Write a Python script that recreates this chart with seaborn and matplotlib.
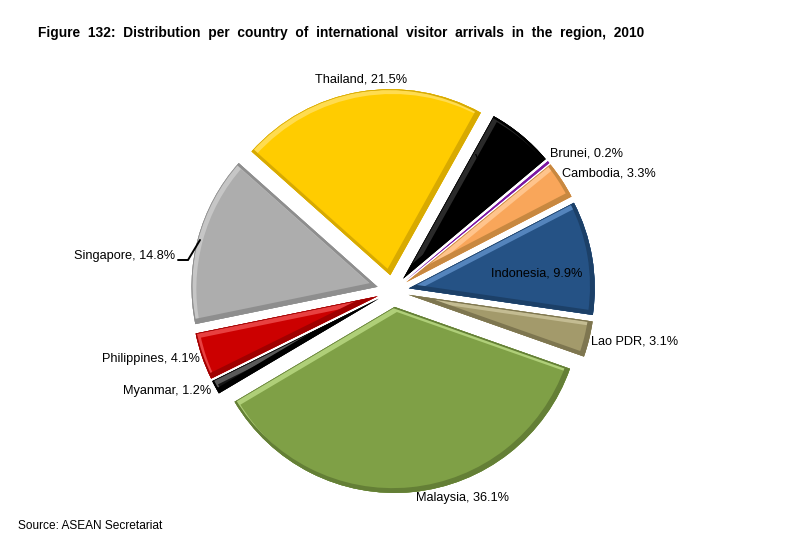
import matplotlib
matplotlib.use("Agg")
import matplotlib.pyplot as plt
from matplotlib.patches import Wedge
import seaborn as sns

# values, clockwise from Brunei
countries = ["Brunei", "Cambodia", "Indonesia", "Lao PDR", "Malaysia",
             "Myanmar", "Philippines", "Singapore", "Thailand", "Vietnam"]
shares = [0.2, 3.3, 9.9, 3.1, 36.1, 1.2, 4.1, 14.8, 21.5, 5.8]
slice_colors = ["#9A1FC8", "#F9A65A", "#255285", "#A39A6B", "#7FA046",
                "#141414", "#CC0000", "#ADADAD", "#FFCC00", "#000000"]
light_colors = ["#B050D8", "#FFC48C", "#5484BC", "#C4BC92", "#AFCF78",
                "#5A5A5A", "#E84040", "#C6C6C6", "#FFDC50", "#2A2A2A"]
dark_colors = ["#7A18A0", "#C88840", "#1C4068", "#7E7650", "#647F36",
               "#000000", "#A00000", "#8E8E8E", "#D8AA00", "#000000"]

title = "Figure 132: Distribution per country of international visitor arrivals in the region, 2010"
source = "Source: ASEAN Secretariat"

# label layout in pixels, from the top left corner of the picture
label_pos = {
    "Brunei": (587, 154), "Cambodia": (609, 173), "Indonesia": (537, 274),
    "Lao PDR": (635, 341), "Malaysia": (462, 498), "Myanmar": (167, 391),
    "Philippines": (151, 359), "Singapore": (125, 256), "Thailand": (361, 80),
    "Vietnam": (500, 166),
}

sns.set_theme(style="white")
plt.rcParams["font.family"] = ["Liberation Sans", "DejaVu Sans"]

W, H = 786, 548
fig = plt.figure(figsize=(W / 100, H / 100), dpi=100, facecolor="white")
ax = fig.add_axes([0, 0, 1, 1])

wedges, _ = ax.pie(shares, colors=sns.color_palette(slice_colors), startangle=40,
                   counterclock=False, radius=186, center=(393, H - 291),
                   explode=[16] * len(shares), frame=True,
                   wedgeprops={"linewidth": 0})
ax.set_xlim(0, W)
ax.set_ylim(0, H)
ax.axis("off")

# bevel: shifted strokes clipped to the slice, light along the top left, dark along the bottom right
bevel = 2.0
for w, lc, dc in zip(wedges, light_colors, dark_colors):
    cx, cy = w.center
    for dx, col in [(1, lc), (-1, dc)]:
        stroke = Wedge((cx + dx * bevel, cy - dx * bevel), w.r, w.theta1, w.theta2,
                       facecolor="none", edgecolor=col, linewidth=2 * bevel * 0.72 * 1.4,
                       zorder=3)
        ax.add_patch(stroke)
        stroke.set_clip_path(w)
    rim = Wedge((cx, cy), w.r, w.theta1, w.theta2, facecolor="none",
                edgecolor=dc, linewidth=1.0, zorder=4)
    ax.add_patch(rim)
    rim.set_clip_path(w)

for name, share in zip(countries, shares):
    x, y = label_pos[name]
    txt = f"{name},\n{share}%" if name == "Vietnam" else f"{name}, {share}%"
    ax.text(x, H - y, txt, ha="center", va="center", fontsize=9.2,
            color="black", zorder=6, linespacing=1.15)

# leader line for Singapore
ax.plot([178, 188, 200], [H - 260, H - 260, H - 240], color="black", lw=1.4,
        solid_joinstyle="miter", zorder=6)

ax.text(38, H - 33, title.replace(" ", "  "), ha="left", va="center", fontsize=9.9,
        fontweight="bold", color="black")
ax.text(18, H - 526, source, ha="left", va="center", fontsize=8.6, color="black")

fig.savefig("out.png", dpi=100, facecolor="white")
